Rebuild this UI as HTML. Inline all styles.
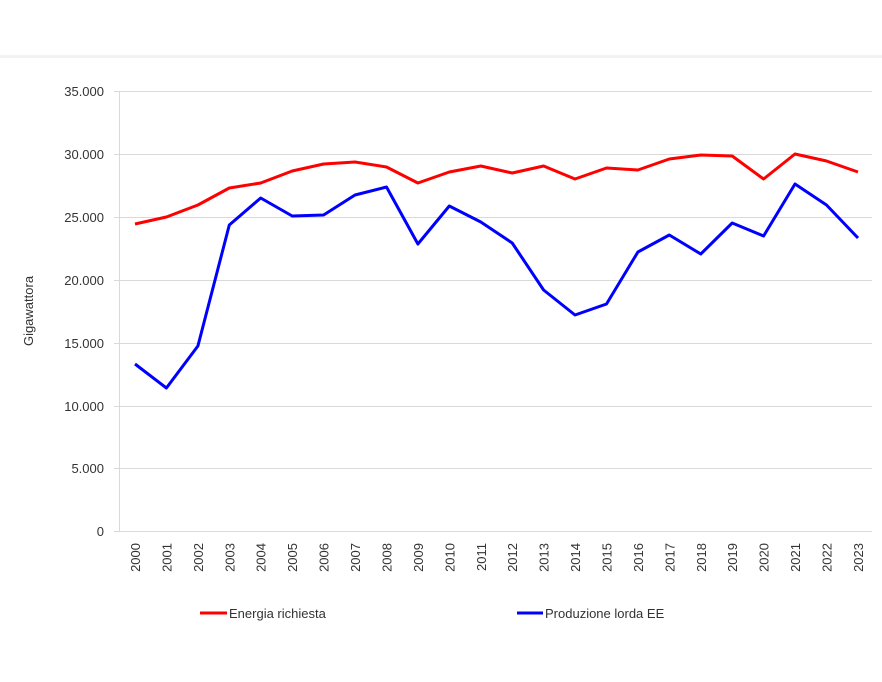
<!DOCTYPE html>
<html><head><style>html,body{margin:0;padding:0;background:#fff;}svg{display:block}</style></head>
<body>
<svg width="882" height="682" xmlns="http://www.w3.org/2000/svg" font-family="Liberation Sans, sans-serif">
<rect width="882" height="682" fill="#fff"/>
<rect x="0" y="55" width="882" height="3" fill="#f3f3f3"/>
<g stroke="#d9d9d9" stroke-width="1">
<line x1="114" y1="91.5" x2="872" y2="91.5"/>
<line x1="114" y1="154.5" x2="872" y2="154.5"/>
<line x1="114" y1="217.5" x2="872" y2="217.5"/>
<line x1="114" y1="280.5" x2="872" y2="280.5"/>
<line x1="114" y1="343.5" x2="872" y2="343.5"/>
<line x1="114" y1="406.5" x2="872" y2="406.5"/>
<line x1="114" y1="468.5" x2="872" y2="468.5"/>
<line x1="114" y1="531.5" x2="872" y2="531.5"/>
<line x1="119.5" y1="91" x2="119.5" y2="531"/>
</g>
<g font-size="13" fill="#333" text-anchor="end">
<text x="104" y="96">35.000</text>
<text x="104" y="159">30.000</text>
<text x="104" y="222">25.000</text>
<text x="104" y="285">20.000</text>
<text x="104" y="348">15.000</text>
<text x="104" y="411">10.000</text>
<text x="104" y="473">5.000</text>
<text x="104" y="536">0</text>
</g>
<text transform="translate(33,311) rotate(-90)" font-size="13" fill="#333" text-anchor="middle">Gigawattora</text>
<g font-size="13" fill="#333" text-anchor="end" id="xl"></g>
<polyline fill="none" stroke="#ff0000" stroke-width="3" stroke-linejoin="round" points="135,224 166.4,217 197.9,205 229.3,188 260.7,183 292.2,171 323.6,164 355,162 386.5,167 417.9,183 449.3,172 480.8,166 512.2,173 543.6,166 575,179 606.5,168 637.9,170 669.3,159 700.8,155 732.2,156 763.6,179 795,154 826.5,161 858,172"/>
<polyline fill="none" stroke="#0000ff" stroke-width="3" stroke-linejoin="round" points="135,364 166.4,388 197.9,346 229.3,225 260.7,198 292.2,216 323.6,215 355,195 386.5,187 417.9,244 449.3,206 480.8,222 512.2,243 543.6,290 575,315 606.5,304 637.9,252 669.3,235 700.8,254 732.2,223 763.6,236 795,184 826.5,205 858,238"/>
<line x1="200" y1="613" x2="227" y2="613" stroke="#ff0000" stroke-width="3"/>
<text x="229" y="618" font-size="13" fill="#333">Energia richiesta</text>
<line x1="517" y1="613" x2="543" y2="613" stroke="#0000ff" stroke-width="3"/>
<text x="545" y="618" font-size="13" fill="#333">Produzione lorda EE</text>
<g font-size="13" fill="#333" text-anchor="end">
<text transform="translate(140,543) rotate(-90)">2000</text>
<text transform="translate(171.4,543) rotate(-90)">2001</text>
<text transform="translate(202.9,543) rotate(-90)">2002</text>
<text transform="translate(234.3,543) rotate(-90)">2003</text>
<text transform="translate(265.7,543) rotate(-90)">2004</text>
<text transform="translate(297.2,543) rotate(-90)">2005</text>
<text transform="translate(328.6,543) rotate(-90)">2006</text>
<text transform="translate(360,543) rotate(-90)">2007</text>
<text transform="translate(391.5,543) rotate(-90)">2008</text>
<text transform="translate(422.9,543) rotate(-90)">2009</text>
<text transform="translate(454.3,543) rotate(-90)">2010</text>
<text transform="translate(485.8,543) rotate(-90)">2011</text>
<text transform="translate(517.2,543) rotate(-90)">2012</text>
<text transform="translate(548.6,543) rotate(-90)">2013</text>
<text transform="translate(580,543) rotate(-90)">2014</text>
<text transform="translate(611.5,543) rotate(-90)">2015</text>
<text transform="translate(642.9,543) rotate(-90)">2016</text>
<text transform="translate(674.3,543) rotate(-90)">2017</text>
<text transform="translate(705.8,543) rotate(-90)">2018</text>
<text transform="translate(737.2,543) rotate(-90)">2019</text>
<text transform="translate(768.6,543) rotate(-90)">2020</text>
<text transform="translate(800,543) rotate(-90)">2021</text>
<text transform="translate(831.5,543) rotate(-90)">2022</text>
<text transform="translate(863,543) rotate(-90)">2023</text>
</g>
</svg>
</body></html>
